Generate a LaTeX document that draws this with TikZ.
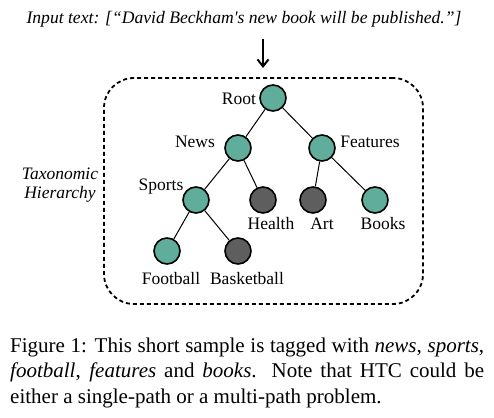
\documentclass[tikz,border=0pt]{standalone}
\usepackage{fontspec}
\setmainfont{Liberation Serif}
\usetikzlibrary{arrows.meta}
\definecolor{tealc}{HTML}{60AD9B}
\definecolor{darkg}{HTML}{5E5E5E}
\tikzset{
  tnode/.style={circle, draw=black, line width=1.6pt, minimum size=26pt, inner sep=0pt},
  posnode/.style={tnode, fill=tealc},
  negnode/.style={tnode, fill=darkg},
  lbl/.style={font=\fontsize{17.5}{18}\selectfont, inner sep=0pt, anchor=base},
  link/.style={line width=1pt},
}
\begin{document}
\begin{tikzpicture}[x=1pt,y=-1pt]
\useasboundingbox (0,0) rectangle (494,417);
% input text
\node[lbl, font=\fontsize{17.6}{18}\selectfont\itshape\addfontfeature{Ligatures=TeXOff}] (input) at (244,24) {Input text: [“David Beckham's new book will be published.”]};
\coordinate (arrS) at (263,39);
\coordinate (arrE) at (263,68);
\draw[line width=2pt, -{Straight Barb[length=7pt,width=11pt,line width=2pt]}] (arrS) -- (arrE);
% dashed box
\node[draw, dash pattern=on 4pt off 3pt, line width=1.8pt, rounded corners=30pt, minimum width=319pt, minimum height=226pt] (box) at (263.5,191) {};
% side label
\node[font=\fontsize{17.5}{18.5}\selectfont\itshape, align=center, inner sep=0pt] (tax) at (60,185) {Taxonomic\\Hierarchy};
% tree nodes
\node[posnode] (root) at (273,98) {};
\node[posnode] (news) at (238,148) {};
\node[posnode] (feat) at (322,148) {};
\node[posnode] (sports) at (196,200) {};
\node[negnode] (health) at (263,200) {};
\node[negnode] (art) at (313,200) {};
\node[posnode] (books) at (375,200) {};
\node[posnode] (foot) at (167,251) {};
\node[negnode] (bask) at (238,251) {};
% edges
\draw[link] (root) -- (news);
\draw[link] (root) -- (feat);
\draw[link] (news) -- (sports);
\draw[link] (news) -- (health);
\draw[link] (feat) -- (art);
\draw[link] (feat) -- (books);
\draw[link] (sports) -- (foot);
\draw[link] (sports) -- (bask);
% labels
\node[lbl] (lroot) at (239,104) {Root};
\node[lbl] (lnews) at (195,147) {News};
\node[lbl] (lfeat) at (370,147) {Features};
\node[lbl] (lsports) at (161,190) {Sports};
\node[lbl] (lhealth) at (271,229) {Health};
\node[lbl] (lart) at (322,229) {Art};
\node[lbl] (lbooks) at (383,229) {Books};
\node[lbl] (lfoot) at (171,284) {Football};
\node[lbl] (lbask) at (247,284) {Basketball};
% caption
\node[anchor=north west, inner sep=0pt, text width=474pt, align=justify, font=\fontsize{21}{25.5}\selectfont] (cap) at (10,337.5)
{Figure 1: This short sample is tagged with \emph{news}, \emph{sports},\linebreak
\emph{football}, \emph{features} and \emph{books}. Note that HTC could be\linebreak
either a single-path or a multi-path problem.};
\end{tikzpicture}
\end{document}
